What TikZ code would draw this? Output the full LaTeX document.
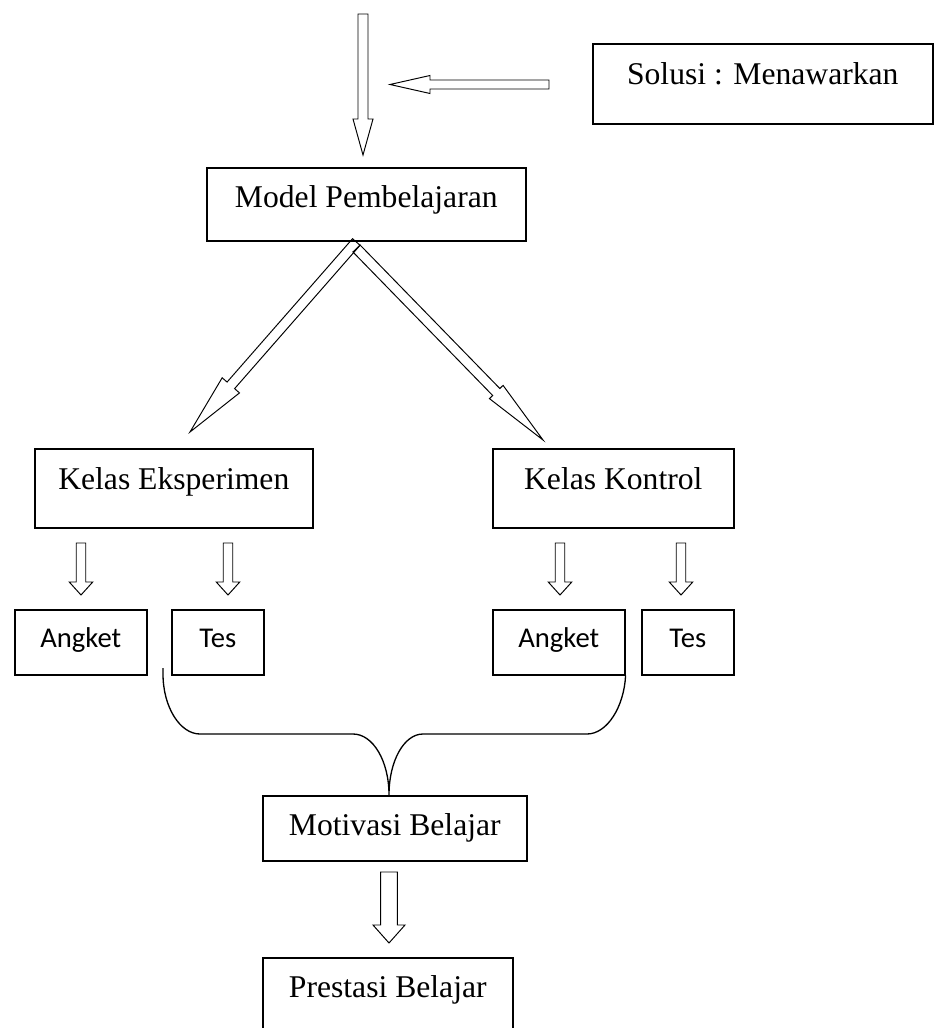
\documentclass[tikz,border=0pt]{standalone}
\usepackage{fontspec}
\setmainfont{Liberation Serif}
\newfontfamily\calfont{Carlito}
\usetikzlibrary{calc}
\tikzset{
  box/.style  = {draw, line width=0.9pt, inner sep=0pt, anchor=north west,
                 font=\fontsize{18}{21}\selectfont},
  boxc/.style = {box, font=\calfont\fontsize{16.3}{19}\selectfont},
  blk/.style  = {draw, line width=0.55pt, line join=miter},
  brc/.style  = {draw, line width=0.75pt},
}
% hollow block arrow: from, to, shaft half width, head half width, head length
\newcommand{\blockarrow}[5]{%
  \path ($(#2)!#5!(#1)$) coordinate (hb);
  \draw[blk] ($(#1)!#3!90:(#2)$) -- ($(hb)!#3!90:(#2)$) -- ($(hb)!#4!90:(#2)$)
    -- (#2) -- ($(hb)!#4!-90:(#2)$) -- ($(hb)!#3!-90:(#2)$)
    -- ($(#1)!#3!-90:(#2)$) -- cycle;}

\begin{document}
\begin{tikzpicture}[x=0.2mm, y=-0.2mm]
  \path[use as bounding box, clip] (0,0) rectangle (937,1028);
  % boxes
  \node[box, minimum width=68mm, text height=8.2mm, text depth=7.8mm]
       (solusi) at (592,43) {Solusi : Menawarkan};
  \node[box, minimum width=63.8mm, text height=8mm, text depth=6.6mm]
       (model) at (206,167) {Model Pembelajaran};
  \node[box, minimum width=55.6mm, text height=8.2mm, text depth=7.6mm]
       (eksp) at (34,448) {Kelas Eksperimen};
  \node[box, minimum width=48.2mm, text height=8.2mm, text depth=7.6mm]
       (kontrol) at (492,448) {Kelas Kontrol};
  \foreach \x/\w/\t/\n in {14/26.4mm/Angket/angE, 171/18.4mm/Tes/tesE,
                           492/26.4mm/Angket/angK, 641/18.4mm/Tes/tesK}
    \node[boxc, minimum width=\w, text height=7.6mm, text depth=5.4mm]
         (\n) at (\x,609) {\t};
  \node[box, minimum width=52.8mm, text height=8mm, text depth=5mm]
       (motiv) at (262,795) {Motivasi Belajar};
  \node[box, minimum width=50mm, text height=8mm, text depth=8.6mm]
       (prestasi) at (262,957) {Prestasi Belajar};
  % block arrows
  \coordinate (in) at (363,14);
  \coordinate (inend) at (363,155);
  \blockarrow{in}{inend}{1mm}{2mm}{7.2mm}
  \coordinate (sol) at (549,84.5);
  \coordinate (solend) at (390,84.5);
  \blockarrow{sol}{solend}{0.9mm}{1.8mm}{8mm}
  \coordinate (ml) at (356.3,242);
  \coordinate (mlend) at (190,432);
  \blockarrow{ml}{mlend}{1mm}{2.3mm}{12.4mm}
  \coordinate (mr) at (356.5,248.5);
  \coordinate (mrend) at (543,440);
  \blockarrow{mr}{mrend}{1mm}{1.9mm}{13.4mm}
  \foreach \x in {81,228,560,681}
    \blockarrow{\x,543}{\x,595}{0.95mm}{2.35mm}{2.6mm}
  \coordinate (mo) at (389,872);
  \coordinate (moend) at (389,943);
  \blockarrow{mo}{moend}{1.67mm}{3.2mm}{3.6mm}
  % joining curve
  \coordinate (join) at (389,795);
  \draw[brc] (163,668) -- (163,674) .. controls (163,707) and (180,734) .. (200,734)
    -- (353,734) .. controls (373,734) and (389,761) .. (join)
    .. controls (389,761) and (404,734) .. (423,734)
    -- (587,734) .. controls (607,734) and (624,707) .. (angK.south east);
\end{tikzpicture}
\end{document}
